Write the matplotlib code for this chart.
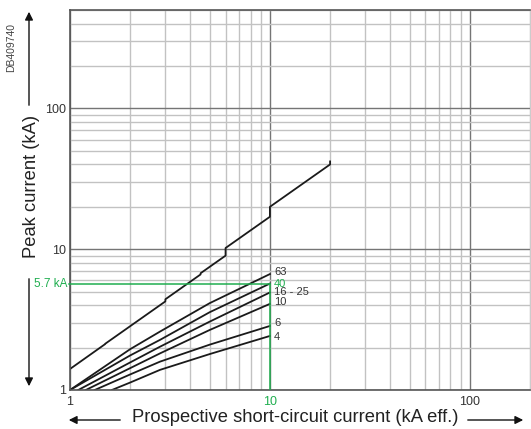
import numpy as np
import matplotlib
matplotlib.use('Agg')
import matplotlib.pyplot as plt
from matplotlib.ticker import LogLocator, NullFormatter

plt.rcParams['font.family'] = ['Liberation Sans', 'DejaVu Sans']

# unlimited peak current (asymmetry factor steps)
peak_x = [1, 1.5, 1.5, 3, 3, 4.5, 4.5, 6, 6, 10, 10, 20, 20]
peak_y = [1.41, 2.12, 2.13, 4.26, 4.41, 6.62, 6.75, 9.0, 10.2, 17, 20, 40, 42]

# limited peak current per rating
ratings = ['63', '40', '16 - 25', '10', '6', '4']
curve_x = [
    [1.0, 2, 2.82, 5, 10],
    [1.0, 2, 2.82, 5, 10],
    [1.1, 2, 2.82, 5, 10],
    [1.2, 2, 2.82, 5, 10],
    [1.33, 2, 2.82, 5, 10],
    [1.62, 2, 2.82, 5, 10],
]
curve_y = [
    [1.0, 1.95, 2.60, 4.14, 6.66],
    [1.0, 1.76, 2.27, 3.57, 5.70],
    [1.0, 1.57, 2.03, 3.06, 4.93],
    [1.0, 1.43, 1.82, 2.67, 4.09],
    [1.0, 1.29, 1.59, 2.10, 2.85],
    [1.0, 1.13, 1.39, 1.80, 2.42],
]
label_offsets = [1.5, 0, 0, 1.5, 2, -0.7]

ref_x = 10
ref_y = 5.7

green = '#1fae4f'
txt = '#333333'

fig = plt.figure(figsize=(5.31, 4.29), dpi=100)
ax = fig.add_axes([70/531, 39/429, 460/531, 380/429])
ax.set_xscale('log')
ax.set_yscale('log')
ax.set_xlim(1, 200)
ax.set_ylim(1, 500)

ax.xaxis.set_minor_locator(LogLocator(base=10, subs=range(2, 10)))
ax.yaxis.set_minor_locator(LogLocator(base=10, subs=range(2, 10)))
ax.xaxis.set_minor_formatter(NullFormatter())
ax.yaxis.set_minor_formatter(NullFormatter())
ax.grid(which='major', color='#757575', lw=1.0)
ax.grid(which='minor', color='#c2c2c2', lw=1.0)
ax.set_axisbelow(True)
ax.tick_params(which='both', length=0)

ax.set_xticks([1, 10, 100])
ax.set_xticklabels(['1', '10', '100'], fontsize=9, color=txt)
ax.get_xticklabels()[1].set_color(green)
ax.set_yticks([1, 10, 100])
ax.set_yticklabels(['1', '10', '100'], fontsize=9, color=txt)
ax.tick_params(axis='x', pad=4)
ax.tick_params(axis='y', pad=3)

for side in ['left', 'bottom', 'top']:
    ax.spines[side].set_color('#555555')
    ax.spines[side].set_linewidth(1.2)
ax.spines['right'].set_color('#cccccc')

ax.plot(peak_x, peak_y, color='#1a1a1a', lw=1.3)

for name, xs, ys, off in zip(ratings, curve_x, curve_y, label_offsets):
    ax.plot(xs, ys, color='#1a1a1a', lw=1.3)
    ax.annotate(name, (xs[-1], ys[-1]), xytext=(3, off), textcoords='offset points',
                fontsize=8, color=green if name == '40' else txt, va='center', ha='left')

# 5.7 kA reading
ax.plot([0.985, ref_x], [ref_y, ref_y], color=green, lw=1.1, clip_on=False, zorder=3)
ax.plot([ref_x, ref_x], [1, ref_y], color=green, lw=1.1, zorder=3)
ax.annotate('5.7 kA', (0.985, ref_y), xytext=(-1, 0), textcoords='offset points',
            fontsize=8.5, color=green, va='center', ha='right', annotation_clip=False)

# axis titles with arrows
fig.text(32/531, 1 - 186/429, 'Peak current (kA)', rotation=90, ha='center', va='center',
         fontsize=13.2, color='#222222')
fig.text(295/531, 1 - 418/429, 'Prospective short-circuit current (kA eff.)', ha='center',
         va='center', fontsize=13.2, color='#222222')
fig.text(11/531, 1 - 48/429, 'DB409740', rotation=90, ha='center', va='center',
         fontsize=7.5, color='#444444')

arr = dict(arrowstyle='-|>', color='#111111', lw=1.0, mutation_scale=12)
ax.annotate('', xy=(29/531, 1 - 9/429), xytext=(29/531, 1 - 108/429),
            xycoords='figure fraction', arrowprops=arr)
ax.annotate('', xy=(29/531, 1 - 389/429), xytext=(29/531, 1 - 276/429),
            xycoords='figure fraction', arrowprops=arr)
ax.annotate('', xy=(66/531, 1 - 420/429), xytext=(123/531, 1 - 420/429),
            xycoords='figure fraction', arrowprops=arr)
ax.annotate('', xy=(526/531, 1 - 420/429), xytext=(465/531, 1 - 420/429),
            xycoords='figure fraction', arrowprops=arr)

fig.savefig('out.png', dpi=100)
